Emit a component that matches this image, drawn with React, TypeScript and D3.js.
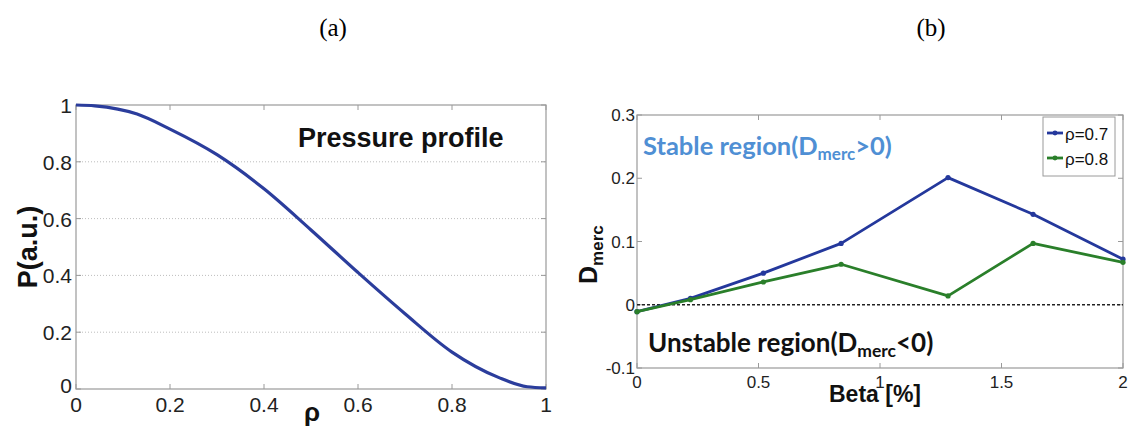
import React from "react";
import * as d3 from "d3";

// Panel (a): pressure profile
const rhoValues = [0, 0.04, 0.13, 0.2, 0.3, 0.4, 0.5, 0.6, 0.7, 0.8, 0.9, 0.96, 1];
const pressureValues = [1, 0.997, 0.968, 0.915, 0.825, 0.705, 0.56, 0.41, 0.265, 0.13, 0.04, 0.008, 0.004];
const pTicksX = [0, 0.2, 0.4, 0.6, 0.8, 1];
const pTicksY = [0, 0.2, 0.4, 0.6, 0.8, 1];

// Panel (b): Mercier criterion vs beta
const betaValues = [0, 0.22, 0.52, 0.84, 1.28, 1.63, 2.0];
const dmercRho07 = [-0.011, 0.01, 0.05, 0.097, 0.201, 0.143, 0.072];
const dmercRho08 = [-0.011, 0.008, 0.036, 0.064, 0.014, 0.097, 0.067];
const seriesNames = ["ρ=0.7", "ρ=0.8"];
const seriesColors = ["#24389c", "#2a7f2a"];
const bTicksX = [0, 0.5, 1, 1.5, 2];
const bTicksY = [-0.1, 0, 0.1, 0.2, 0.3];

const SANS = "'Liberation Sans', Arial, sans-serif";
const HUMANIST = "Lato, 'Open Sans', sans-serif";
const AXIS = "#9a9a9a";

function fmt(v: number) {
  if (v === 0) return "0";
  return String(v);
}

export default function App() {
  // panel (a) scales
  const xa = d3.scaleLinear().domain([0, 1]).range([76, 546]);
  const ya = d3.scaleLinear().domain([0, 1]).range([389, 105]);
  const lineA = d3
    .line<number>()
    .x((_, i) => xa(rhoValues[i]))
    .y((d) => ya(d))
    .curve(d3.curveMonotoneX);

  // panel (b) scales
  const xb = d3.scaleLinear().domain([0, 2]).range([637, 1123]);
  const yb = d3.scaleLinear().domain([-0.1, 0.3]).range([368, 115]);
  const lineB = d3
    .line<number>()
    .x((_, i) => xb(betaValues[i]))
    .y((d) => yb(d));
  const series = [dmercRho07, dmercRho08];

  const tick = 5;

  return (
    <svg width={1135} height={430} style={{ position: "absolute", left: 0, top: 0, background: "#fff" }}>
      <rect x={0} y={0} width={1135} height={430} fill="#fff" />
      {/* panel titles */}
      <text x={333} y={36} textAnchor="middle" fontFamily="'Liberation Serif', 'Times New Roman', serif" fontSize={25}>
        (a)
      </text>
      <text x={931} y={36} textAnchor="middle" fontFamily="'Liberation Serif', 'Times New Roman', serif" fontSize={25}>
        (b)
      </text>

      {/* ---------- panel (a) ---------- */}
      <g>
        {pTicksY.filter((t) => t > 0 && t < 1).map((t) => (
          <line key={"ga" + t} x1={xa(0)} x2={xa(1)} y1={ya(t)} y2={ya(t)} stroke="#bdbdbd" strokeWidth={1} strokeDasharray="1,2" />
        ))}
        <rect x={xa(0)} y={ya(1)} width={xa(1) - xa(0)} height={ya(0) - ya(1)} fill="none" stroke={AXIS} strokeWidth={1.2} />
        {pTicksX.map((t) => (
          <g key={"txa" + t}>
            <line x1={xa(t)} x2={xa(t)} y1={ya(0)} y2={ya(0) - tick} stroke={AXIS} />
            <line x1={xa(t)} x2={xa(t)} y1={ya(1)} y2={ya(1) + tick} stroke={AXIS} />
            <text x={xa(t)} y={412} textAnchor="middle" fontFamily={SANS} fontSize={21} fill="#222">
              {fmt(t)}
            </text>
          </g>
        ))}
        {pTicksY.map((t) => (
          <g key={"tya" + t}>
            <line x1={xa(0)} x2={xa(0) + tick} y1={ya(t)} y2={ya(t)} stroke={AXIS} />
            <line x1={xa(1)} x2={xa(1) - tick} y1={ya(t)} y2={ya(t)} stroke={AXIS} />
            <text x={72} y={ya(t) + (t === 0 ? 4 : 8)} textAnchor="end" fontFamily={SANS} fontSize={21} fill="#222">
              {fmt(t)}
            </text>
          </g>
        ))}
        <path d={lineA(pressureValues) || ""} fill="none" stroke="#2b3d9c" strokeWidth={3.2} strokeLinejoin="round" />
        <text x={298} y={147} fontFamily={SANS} fontWeight="bold" fontSize={27} fill="#111">
          Pressure profile
        </text>
        <text x={312} y={421} textAnchor="middle" fontFamily={SANS} fontWeight="bold" fontSize={26} fill="#111">
          ρ
        </text>
        <text
          transform="translate(37,247) rotate(-90)"
          textAnchor="middle"
          fontFamily={SANS}
          fontWeight="bold"
          fontSize={27}
          fill="#111"
        >
          P(a.u.)
        </text>
      </g>

      {/* ---------- panel (b) ---------- */}
      <g>
        <rect x={xb(0)} y={yb(0.3)} width={xb(2) - xb(0)} height={yb(-0.1) - yb(0.3)} fill="none" stroke={AXIS} strokeWidth={1.2} />
        {bTicksX.map((t) => (
          <g key={"txb" + t}>
            <line x1={xb(t)} x2={xb(t)} y1={yb(-0.1)} y2={yb(-0.1) - tick} stroke={AXIS} />
            <line x1={xb(t)} x2={xb(t)} y1={yb(0.3)} y2={yb(0.3) + tick} stroke={AXIS} />
            <text x={xb(t)} y={388} textAnchor="middle" fontFamily={SANS} fontSize={17} fill="#222">
              {fmt(t)}
            </text>
          </g>
        ))}
        {bTicksY.map((t) => (
          <g key={"tyb" + t}>
            <line x1={xb(0)} x2={xb(0) + tick} y1={yb(t)} y2={yb(t)} stroke={AXIS} />
            <line x1={xb(2)} x2={xb(2) - tick} y1={yb(t)} y2={yb(t)} stroke={AXIS} />
            <text x={635} y={yb(t) + 6} textAnchor="end" fontFamily={SANS} fontSize={17} fill="#222">
              {fmt(t)}
            </text>
          </g>
        ))}
        {/* stability boundary */}
        <line x1={xb(0)} x2={xb(2)} y1={yb(0)} y2={yb(0)} stroke="#222" strokeWidth={1.4} strokeDasharray="3,2" />

        {series.map((s, k) => (
          <g key={"s" + k}>
            <path d={lineB(s) || ""} fill="none" stroke={seriesColors[k]} strokeWidth={2.8} strokeLinejoin="round" />
            {s.map((v, i) => (
              <circle key={i} cx={xb(betaValues[i])} cy={yb(v)} r={2.6} fill={seriesColors[k]} />
            ))}
          </g>
        ))}

        {/* region annotations */}
        <text x={643} y={155} fontFamily={HUMANIST} fontWeight="bold" fontSize={25.5} fill="#4f8fd4">
          Stable region(D<tspan fontSize={17} dy={5}>merc</tspan>
          <tspan dy={-5}>&gt;0)</tspan>
        </text>
        <text x={648} y={352} fontFamily={HUMANIST} fontWeight="bold" fontSize={26} fill="#111">
          Unstable region(D<tspan fontSize={17.5} dy={5}>merc</tspan>
          <tspan dy={-5}>&lt;0)</tspan>
        </text>

        {/* legend */}
        <rect x={1043} y={117} width={72} height={59} fill="#fff" stroke={AXIS} strokeWidth={1} />
        {seriesNames.map((n, k) => (
          <g key={"lg" + k}>
            <line x1={1047} x2={1063} y1={133 + k * 25} y2={133 + k * 25} stroke={seriesColors[k]} strokeWidth={2.8} />
            <circle cx={1055} cy={133 + k * 25} r={2.4} fill={seriesColors[k]} />
            <text x={1065} y={140 + k * 25} fontFamily={SANS} fontSize={17} fill="#111">
              {n}
            </text>
          </g>
        ))}

        {/* axis labels */}
        <text x={875} y={402} textAnchor="middle" fontFamily={SANS} fontWeight="bold" fontSize={23} fill="#111">
          Beta [%]
        </text>
        <text transform="translate(597,284) rotate(-90)" fontFamily={SANS} fontWeight="bold" fill="#111">
          <tspan fontSize={25}>D</tspan>
          <tspan fontSize={17} dy={6}>merc</tspan>
        </text>
      </g>
    </svg>
  );
}
